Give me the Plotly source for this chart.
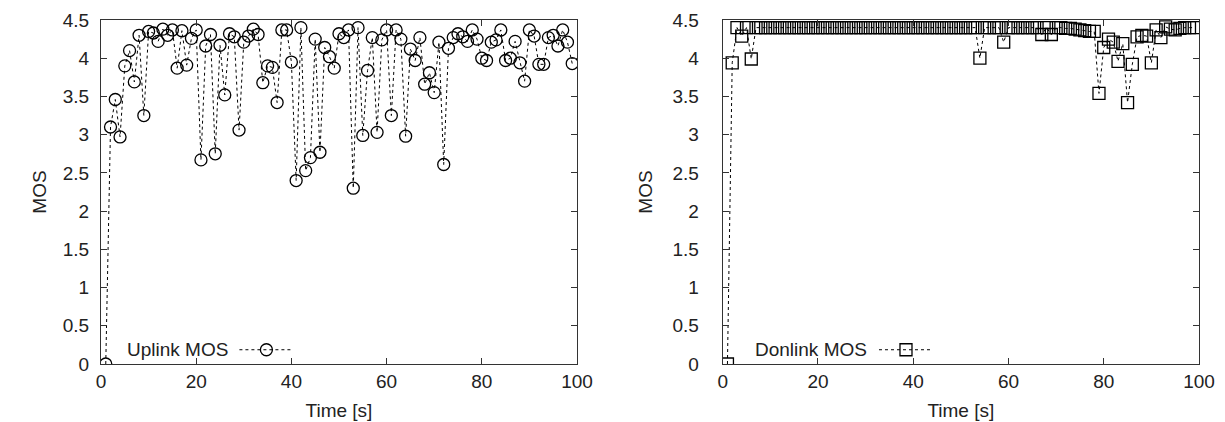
import plotly.graph_objects as go
from plotly.subplots import make_subplots

time_s = list(range(1, 100))

uplink_mos = [
    0.00, 3.10, 3.46, 2.97, 3.90, 4.10, 3.69, 4.30, 3.25, 4.35,
    4.33, 4.22, 4.38, 4.30, 4.37, 3.87, 4.36, 3.91, 4.26, 4.37,
    2.67, 4.16, 4.31, 2.75, 4.17, 3.52, 4.32, 4.28, 3.06, 4.21,
    4.29, 4.38, 4.31, 3.68, 3.90, 3.88, 3.42, 4.37, 4.37, 3.95,
    2.40, 4.40, 2.53, 2.70, 4.25, 2.77, 4.14, 4.02, 3.87, 4.32,
    4.27, 4.37, 2.30, 4.40, 2.99, 3.84, 4.27, 3.03, 4.24, 4.37,
    3.25, 4.37, 4.25, 2.98, 4.12, 3.97, 4.27, 3.66, 3.81, 3.55,
    4.21, 2.61, 4.13, 4.27, 4.32, 4.28, 4.22, 4.37, 4.25, 4.00,
    3.97, 4.21, 4.24, 4.37, 3.97, 4.00, 4.22, 3.94, 3.70, 4.37,
    4.29, 3.92, 3.92, 4.27, 4.30, 4.16, 4.37, 4.21, 3.93,
]

downlink_mos = [
    0.00, 3.94, 4.40, 4.29, 4.40, 3.99, 4.40, 4.40, 4.40, 4.40,
    4.40, 4.40, 4.40, 4.40, 4.40, 4.40, 4.40, 4.40, 4.40, 4.40,
    4.40, 4.40, 4.40, 4.40, 4.40, 4.40, 4.40, 4.40, 4.40, 4.40,
    4.40, 4.40, 4.40, 4.40, 4.40, 4.40, 4.40, 4.40, 4.40, 4.40,
    4.40, 4.40, 4.40, 4.40, 4.40, 4.40, 4.40, 4.40, 4.40, 4.40,
    4.40, 4.40, 4.40, 4.00, 4.40, 4.40, 4.40, 4.40, 4.21, 4.40,
    4.40, 4.40, 4.40, 4.40, 4.40, 4.40, 4.31, 4.40, 4.31, 4.40,
    4.40, 4.39, 4.39, 4.38, 4.37, 4.36, 4.35, 4.35, 3.54, 4.14,
    4.25, 4.21, 3.96, 4.19, 3.42, 3.92, 4.28, 4.30, 4.29, 3.94,
    4.37, 4.27, 4.41, 4.38, 4.37, 4.39, 4.40, 4.40, 4.40,
]

x_ticks = [0, 20, 40, 60, 80, 100]
y_ticks = [0, 0.5, 1, 1.5, 2, 2.5, 3, 3.5, 4, 4.5]
y_tick_text = ["0", "0.5", "1", "1.5", "2", "2.5", "3", "3.5", "4", "4.5"]

FONT = "Liberation Sans, Arial, sans-serif"
FS = 19
TXT = "#222222"
AX = "#333333"

fig = make_subplots(rows=1, cols=2, horizontal_spacing=0.1324)

fig.add_trace(go.Scatter(
    x=time_s, y=uplink_mos, mode="lines+markers", name=" ",
    line=dict(color="black", width=1, dash="dot"),
    marker=dict(symbol="circle-open", size=12, color="black", line=dict(width=1.3)),
    legend="legend",
), row=1, col=1)

fig.add_trace(go.Scatter(
    x=time_s, y=downlink_mos, mode="lines+markers", name=" ",
    line=dict(color="black", width=1, dash="dot"),
    marker=dict(symbol="square-open", size=12, color="black", line=dict(width=1.3)),
    legend="legend2",
), row=1, col=2)

fig.update_layout(
    xaxis=dict(domain=[0, 0.4335]),
    xaxis2=dict(domain=[0.5662, 1.0]),
)

common_x = dict(
    range=[0, 100], tickvals=x_ticks, ticks="inside", ticklen=6, tickwidth=1,
    tickcolor=AX, showline=True, linecolor=AX, linewidth=1, mirror="ticks",
    showgrid=False, zeroline=False, tickfont=dict(family=FONT, size=FS, color=TXT),
    title=dict(text="Time [s]", font=dict(family=FONT, size=FS, color=TXT), standoff=12),
    ticklabelstandoff=0, automargin=False,
)
fig.update_xaxes(**common_x)

common_y = dict(
    range=[0, 4.5], tickvals=y_ticks, ticktext=y_tick_text, ticks="inside", ticklen=6,
    tickwidth=1, tickcolor=AX, showline=True, linecolor=AX, linewidth=1,
    mirror="ticks", showgrid=False, zeroline=False,
    tickfont=dict(family=FONT, size=FS, color=TXT), automargin=False,
)
fig.update_yaxes(**common_y)
fig.update_yaxes(title=dict(text="MOS", font=dict(family=FONT, size=FS, color=TXT), standoff=11),
                 ticklabelstandoff=7, row=1, col=1)
fig.update_yaxes(title=dict(text="MOS", font=dict(family=FONT, size=FS, color=TXT), standoff=14),
                 ticklabelstandoff=19, row=1, col=2)

fig.update_layout(
    width=1217, height=414,
    margin=dict(l=93, r=26, t=12, b=58),
    paper_bgcolor="white", plot_bgcolor="white",
    showlegend=True,
    legend=dict(x=0.1215, y=0.041, xanchor="left", yanchor="middle",
                bgcolor="rgba(0,0,0,0)", itemwidth=54,
                font=dict(family=FONT, size=FS, color=TXT)),
    legend2=dict(x=0.704, y=0.041, xanchor="left", yanchor="middle",
                 bgcolor="rgba(0,0,0,0)", itemwidth=54,
                 font=dict(family=FONT, size=FS, color=TXT)),
    annotations=[
        dict(text="Uplink MOS", x=0.1175, y=0.041, xref="paper", yref="paper",
             xanchor="right", yanchor="middle", showarrow=False,
             font=dict(family=FONT, size=FS, color=TXT)),
        dict(text="Donlink MOS", x=0.699, y=0.041, xref="paper", yref="paper",
             xanchor="right", yanchor="middle", showarrow=False,
             font=dict(family=FONT, size=FS, color=TXT)),
    ],
)

fig.write_html("out.html")
